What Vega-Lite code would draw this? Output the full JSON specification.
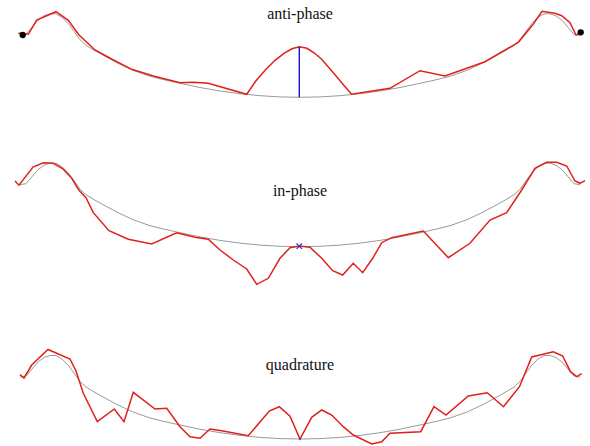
{
  "$schema": "https://vega.github.io/schema/vega-lite/v6.json",
  "padding": 0,
  "background": "white",
  "spacing": 1,
  "config": {"view": {"stroke": null}, "text": {"font": "'Liberation Serif', 'Times New Roman', serif"}},
  "datasets": {
    "envelope": [
      {"x": 20, "a": 62}, {"x": 26, "a": 63}, {"x": 32, "a": 70}, {"x": 38, "a": 77},
      {"x": 44, "a": 81.5}, {"x": 50, "a": 83.5}, {"x": 56, "a": 83.5}, {"x": 62, "a": 80},
      {"x": 68, "a": 74}, {"x": 74, "a": 66}, {"x": 80, "a": 57.5}, {"x": 86, "a": 52},
      {"x": 95, "a": 46.5}, {"x": 105, "a": 41}, {"x": 118, "a": 34}, {"x": 133, "a": 27},
      {"x": 150, "a": 21}, {"x": 165, "a": 17.3}, {"x": 180, "a": 14}, {"x": 200, "a": 9.8},
      {"x": 220, "a": 6.3}, {"x": 240, "a": 3.6}, {"x": 260, "a": 1.6}, {"x": 280, "a": 0.4},
      {"x": 300, "a": 0},
      {"x": 320, "a": 0.4}, {"x": 340, "a": 1.6}, {"x": 360, "a": 3.6}, {"x": 380, "a": 6.3},
      {"x": 400, "a": 9.8}, {"x": 420, "a": 14}, {"x": 435, "a": 17.3}, {"x": 450, "a": 21},
      {"x": 467, "a": 27}, {"x": 482, "a": 34}, {"x": 495, "a": 41}, {"x": 505, "a": 46.5},
      {"x": 514, "a": 52}, {"x": 520, "a": 57.5}, {"x": 526, "a": 66}, {"x": 532, "a": 74},
      {"x": 538, "a": 80}, {"x": 544, "a": 83.5}, {"x": 550, "a": 83.5}, {"x": 556, "a": 81.5},
      {"x": 562, "a": 77}, {"x": 568, "a": 70}, {"x": 574, "a": 63}, {"x": 580, "a": 62}
    ],
    "anti": [
      {"x": 18.3, "a": 64}, {"x": 28.3, "a": 63}, {"x": 36.7, "a": 77.3}, {"x": 56, "a": 85.6},
      {"x": 68.3, "a": 77}, {"x": 79, "a": 62.3}, {"x": 95, "a": 47.3}, {"x": 112.5, "a": 37.8},
      {"x": 131.7, "a": 28}, {"x": 153.3, "a": 21.3}, {"x": 180, "a": 14.6}, {"x": 193.3, "a": 15},
      {"x": 208.3, "a": 14}, {"x": 246.7, "a": 3},
      {"x": 256, "a": 16.5}, {"x": 266, "a": 28}, {"x": 275, "a": 37}, {"x": 284, "a": 44},
      {"x": 292, "a": 48.5}, {"x": 299.3, "a": 50.6}, {"x": 307, "a": 49}, {"x": 314, "a": 44.5},
      {"x": 321.7, "a": 38}, {"x": 329, "a": 29.5}, {"x": 336.7, "a": 20.6}, {"x": 344, "a": 11.8},
      {"x": 351.7, "a": 3}, {"x": 390, "a": 9}, {"x": 420, "a": 26.6}, {"x": 445, "a": 21.3},
      {"x": 485, "a": 35.6}, {"x": 518.3, "a": 55}, {"x": 533, "a": 72.8}, {"x": 542, "a": 86},
      {"x": 555, "a": 84}, {"x": 561.7, "a": 81.6}, {"x": 570, "a": 74.6}, {"x": 576, "a": 62.3},
      {"x": 580, "a": 64.3}
    ],
    "inphase": [
      {"x": 15, "a": 65.7}, {"x": 19, "a": 61.5}, {"x": 33, "a": 79.7}, {"x": 43.3, "a": 84},
      {"x": 53.3, "a": 83.4}, {"x": 63.3, "a": 77.5}, {"x": 71.7, "a": 68.4}, {"x": 79, "a": 56.5},
      {"x": 86, "a": 49}, {"x": 93.3, "a": 34}, {"x": 109, "a": 16}, {"x": 128.3, "a": 7.4},
      {"x": 151.7, "a": 2.7}, {"x": 176.7, "a": 14}, {"x": 195, "a": 9.4}, {"x": 208.3, "a": 7.4},
      {"x": 220, "a": -3.3}, {"x": 233.3, "a": -13.3}, {"x": 246.7, "a": -22.3}, {"x": 256.7, "a": -37.6},
      {"x": 268.3, "a": -31.6}, {"x": 280, "a": -11.6}, {"x": 290, "a": -1}, {"x": 299.3, "a": 0.7},
      {"x": 310, "a": -0.6}, {"x": 321.7, "a": -11.6}, {"x": 332.7, "a": -24}, {"x": 342.7, "a": -28.3},
      {"x": 353.3, "a": -16.6}, {"x": 362.7, "a": -26}, {"x": 372.7, "a": -11.6}, {"x": 381.7, "a": 4},
      {"x": 391.7, "a": 9}, {"x": 423.3, "a": 15.7}, {"x": 448.3, "a": -11}, {"x": 470, "a": 3.4},
      {"x": 490, "a": 26.7}, {"x": 506.7, "a": 34}, {"x": 521.7, "a": 56.7}, {"x": 535, "a": 78.4},
      {"x": 546.7, "a": 84.4}, {"x": 556.7, "a": 84.4}, {"x": 566.7, "a": 80.7}, {"x": 575, "a": 65.7},
      {"x": 580, "a": 63.4}, {"x": 585, "a": 66}
    ],
    "quad": [
      {"x": 20, "a": 64.3}, {"x": 24, "a": 61}, {"x": 31.7, "a": 74}, {"x": 48, "a": 89.5},
      {"x": 70, "a": 80}, {"x": 76, "a": 68}, {"x": 83.3, "a": 45.7}, {"x": 97.3, "a": 17.3},
      {"x": 114.3, "a": 30}, {"x": 124, "a": 17.3}, {"x": 133.3, "a": 46.7}, {"x": 155, "a": 30},
      {"x": 166.7, "a": 30.7}, {"x": 180, "a": 12.3}, {"x": 190, "a": 2.3}, {"x": 200, "a": 0.7},
      {"x": 210, "a": 10}, {"x": 221.7, "a": 8.3}, {"x": 248.3, "a": 3.3}, {"x": 269.3, "a": 28},
      {"x": 279.3, "a": 32.3}, {"x": 290, "a": 22.7}, {"x": 300, "a": 0}, {"x": 311.7, "a": 21.7},
      {"x": 321.7, "a": 29}, {"x": 331.7, "a": 24}, {"x": 343.3, "a": 12.3}, {"x": 353.3, "a": 4},
      {"x": 371.7, "a": -5}, {"x": 381.7, "a": -2.7}, {"x": 390, "a": 5.7}, {"x": 420.7, "a": 7.3},
      {"x": 434, "a": 32.3}, {"x": 446, "a": 24}, {"x": 468.3, "a": 43}, {"x": 487.3, "a": 46.3},
      {"x": 503.5, "a": 32.3}, {"x": 519.5, "a": 52.3}, {"x": 531.7, "a": 82}, {"x": 553.3, "a": 87.3},
      {"x": 562.7, "a": 83}, {"x": 570.5, "a": 67.3}, {"x": 576.7, "a": 62.3}, {"x": 581.7, "a": 65.3}
    ],
    "antiEnds": [{"x": 22.7, "a": 62.3}, {"x": 580.7, "a": 65}],
    "antiGap": [{"x": 299.3, "a0": 0, "a1": 50.6}],
    "inCentre": [{"x": 299.3, "a": 0.5}],
    "quadCentre": [{"x": 300, "a": 0}]
  },
  "vconcat": [
    {
      "width": 590, "height": 148,
      "layer": [
        {"data": {"name": "envelope"}, "mark": {"type": "line", "color": "#9a9a9a", "strokeWidth": 1},
         "encoding": {"x": {"field": "x", "type": "quantitative", "scale": {"domain": [0, 590], "nice": false, "zero": false}, "axis": null},
                      "y": {"field": "a", "type": "quantitative", "scale": {"domain": [-50.7, 97.3], "nice": false, "zero": false}, "axis": null}}},
        {"data": {"name": "anti"}, "mark": {"type": "line", "color": "#e0201c", "strokeWidth": 1.5},
         "encoding": {"x": {"field": "x", "type": "quantitative"}, "y": {"field": "a", "type": "quantitative"}}},
        {"data": {"name": "antiGap"}, "mark": {"type": "rule", "color": "#1414c0", "strokeWidth": 1.4},
         "encoding": {"x": {"field": "x", "type": "quantitative"}, "y": {"field": "a0", "type": "quantitative"}, "y2": {"field": "a1"}}},
        {"data": {"name": "antiEnds"}, "mark": {"type": "point", "filled": true, "color": "#000000", "opacity": 1, "size": 40},
         "encoding": {"x": {"field": "x", "type": "quantitative"}, "y": {"field": "a", "type": "quantitative"}}},
        {"data": {"values": [{"label": "anti-phase"}]},
         "mark": {"type": "text", "fontSize": 16, "align": "center", "baseline": "alphabetic", "color": "#111111"},
         "encoding": {"x": {"datum": 300, "type": "quantitative"}, "y": {"datum": 78.3, "type": "quantitative"}, "text": {"field": "label"}}}
      ]
    },
    {
      "width": 590, "height": 148,
      "layer": [
        {"data": {"name": "envelope"}, "mark": {"type": "line", "color": "#9a9a9a", "strokeWidth": 1},
         "encoding": {"x": {"field": "x", "type": "quantitative", "scale": {"domain": [0, 590], "nice": false, "zero": false}, "axis": null},
                      "y": {"field": "a", "type": "quantitative", "scale": {"domain": [-50.3, 97.7], "nice": false, "zero": false}, "axis": null}}},
        {"data": {"name": "inphase"}, "mark": {"type": "line", "color": "#e0201c", "strokeWidth": 1.5},
         "encoding": {"x": {"field": "x", "type": "quantitative"}, "y": {"field": "a", "type": "quantitative"}}},
        {"data": {"name": "inCentre"}, "mark": {"type": "point", "shape": "M-1,-1L1,1M-1,1L1,-1", "filled": false, "color": "#3232d2", "opacity": 1, "size": 30, "strokeWidth": 1.2},
         "encoding": {"x": {"field": "x", "type": "quantitative"}, "y": {"field": "a", "type": "quantitative"}}},
        {"data": {"values": [{"label": "in-phase"}]},
         "mark": {"type": "text", "fontSize": 16, "align": "center", "baseline": "alphabetic", "color": "#111111"},
         "encoding": {"x": {"datum": 300, "type": "quantitative"}, "y": {"datum": 50.7, "type": "quantitative"}, "text": {"field": "label"}}}
      ]
    },
    {
      "width": 590, "height": 148,
      "layer": [
        {"data": {"name": "envelope"}, "mark": {"type": "line", "color": "#9a9a9a", "strokeWidth": 1},
         "encoding": {"x": {"field": "x", "type": "quantitative", "scale": {"domain": [0, 590], "nice": false, "zero": false}, "axis": null},
                      "y": {"field": "a", "type": "quantitative", "scale": {"domain": [-7, 141], "nice": false, "zero": false}, "axis": null}}},
        {"data": {"name": "quad"}, "mark": {"type": "line", "color": "#e0201c", "strokeWidth": 1.5},
         "encoding": {"x": {"field": "x", "type": "quantitative"}, "y": {"field": "a", "type": "quantitative"}}},
        {"data": {"name": "quadCentre"}, "mark": {"type": "point", "filled": true, "color": "#5a3cc8", "opacity": 1, "size": 4},
         "encoding": {"x": {"field": "x", "type": "quantitative"}, "y": {"field": "a", "type": "quantitative"}}},
        {"data": {"values": [{"label": "quadrature"}]},
         "mark": {"type": "text", "fontSize": 16, "align": "center", "baseline": "alphabetic", "color": "#111111"},
         "encoding": {"x": {"datum": 300, "type": "quantitative"}, "y": {"datum": 69.5, "type": "quantitative"}, "text": {"field": "label"}}}
      ]
    }
  ]
}
